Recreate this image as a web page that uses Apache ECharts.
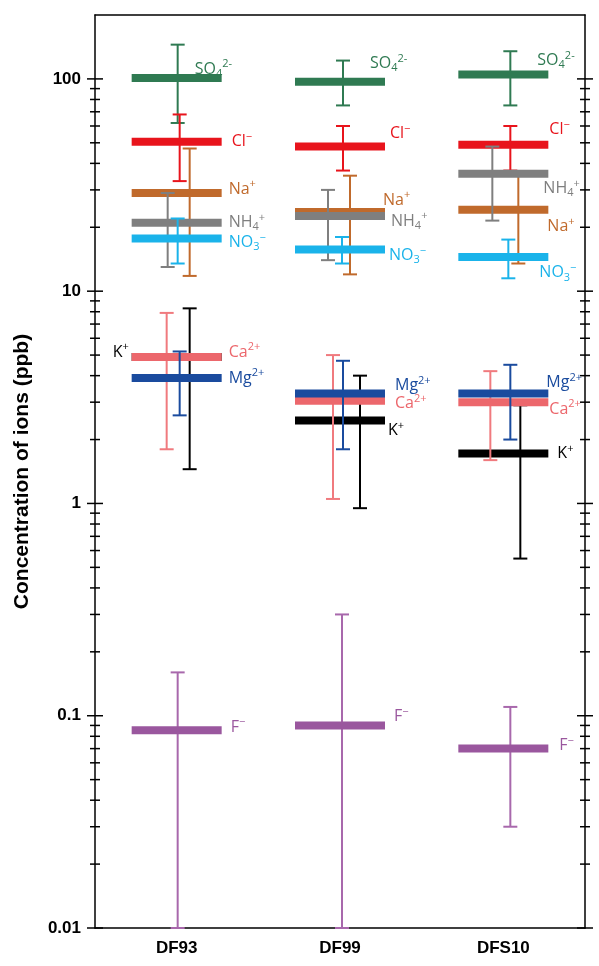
<!DOCTYPE html>
<html>
<head>
<meta charset="utf-8">
<script src="https://cdn.jsdelivr.net/npm/echarts@6/dist/echarts.min.js"></script>
<style>html,body{margin:0;padding:0;background:#fff}#chart{width:599px;height:966px}</style>
</head>
<body>
<div id="chart"></div>
<script>
var sites = ['DF93', 'DF99', 'DFS10'];
var ions = ['SO4', 'Cl', 'Na', 'NH4', 'NO3', 'K', 'Ca', 'Mg', 'F'];
// mean, upper, lower per site (ppb)
var meanVals = {
  SO4: [101, 97, 105], Cl: [50.6, 48, 49], Na: [29, 23.6, 24.2], NH4: [21, 22.6, 35.7],
  NO3: [17.7, 15.7, 14.5], K: [4.9, 2.46, 1.72], Ca: [4.9, 3.05, 3.0], Mg: [3.9, 3.3, 3.3], F: [0.0855, 0.09, 0.07]
};
var upperVals = {
  SO4: [145, 122, 135], Cl: [68, 60, 60], Na: [47, 35, 35], NH4: [29, 30, 48],
  NO3: [22, 18, 17.5], K: [8.3, 4.0, 2.9], Ca: [7.9, 5.0, 4.2], Mg: [5.2, 4.7, 4.5], F: [0.16, 0.3, 0.11]
};
var lowerVals = {
  SO4: [62, 75, 75], Cl: [33, 37, 37], Na: [11.8, 12, 13.5], NH4: [13, 14, 21.5],
  NO3: [13.5, 13.5, 11.5], K: [1.45, 0.95, 0.55], Ca: [1.8, 1.05, 1.6], Mg: [2.6, 1.8, 2.0], F: [0.01, 0.01, 0.03]
};
var tickValues = [0.01, 0.1, 1, 10, 100];

var colors = { SO4: '#2f7a52', Cl: '#e8141c', Na: '#c06a2c', NH4: '#7f7f7f', NO3: '#1ab3ea', K: '#000000', Ca: '#ec676c', Mg: '#1a4b9e', F: '#9a579e' };
var errColors = { SO4: '#2f7a52', Cl: '#e8141c', Na: '#c06a2c', NH4: '#7f7f7f', NO3: '#1ab3ea', K: '#000000', Ca: '#f07a7e', Mg: '#1a4b9e', F: '#a868ac' };
var labels = {
  SO4: '{b|SO}{sb|4}{sp|2-}', Cl: '{b|Cl}{sp|−}', Na: '{b|Na}{sp|+}', NH4: '{b|NH}{sb|4}{sp|+}',
  NO3: '{b|NO}{sb|3}{sp|−}', K: '{b|K}{sp|+}', Ca: '{b|Ca}{sp|2+}', Mg: '{b|Mg}{sp|2+}', F: '{b|F}{sp|−}'
};
// pixel offsets: error-bar x, label dx, label dy
var errDx = {
  SO4: [1, 3, 7], Cl: [3, 3, 7], Na: [13, 10, 15], NH4: [-9, -12, -11], NO3: [1, 2, 5],
  K: [13, 20, 17], Ca: [-10, -7, -13], Mg: [3, 3, 7], F: [1, 2, 7]
};
var labDx = {
  SO4: [18, 30, 34], Cl: [55, 50, 46], Na: [52, 43, 44], NH4: [52, 51, 40], NO3: [52, 49, 36],
  K: [-64, 48, 54], Ca: [52, 55, 46], Mg: [52, 55, 43], F: [54, 54, 56]
};
var labDy = {
  SO4: [-9, -18, -14], Cl: [0, -13, -15], Na: [-4, -12, 17], NH4: [0, 5, 15], NO3: [4, 6, 16],
  K: [-5, 10, 0], Ca: [-5, 3, 7], Mg: [0, -8, -11], F: [-3, -9, -3]
};

var L = Math.log10;
var series = [];
ions.forEach(function (ion) {
  var data = sites.map(function (s, i) {
    return [i, L(meanVals[ion][i]), L(upperVals[ion][i]), L(lowerVals[ion][i])];
  });
  series.push({
    type: 'custom', name: ion, data: data, clip: false,
    renderItem: function (params, api) {
      var i = params.dataIndex;
      var p = api.coord([api.value(0), api.value(1)]);
      var pu = api.coord([api.value(0), api.value(2)]);
      var pl = api.coord([api.value(0), api.value(3)]);
      var ex = p[0] + errDx[ion][i];
      var ec = errColors[ion];
      var ls = { stroke: ec, lineWidth: 2 };
      var c = colors[ion];
      var children = [
        { type: 'line', shape: { x1: ex, y1: pu[1], x2: ex, y2: pl[1] }, style: ls },
        { type: 'line', shape: { x1: ex - 7, y1: pu[1], x2: ex + 7, y2: pu[1] }, style: ls },
        { type: 'line', shape: { x1: ex - 7, y1: pl[1], x2: ex + 7, y2: pl[1] }, style: ls },
        { type: 'line', shape: { x1: p[0] - 45, y1: p[1], x2: p[0] + 45, y2: p[1] }, style: { stroke: c, lineWidth: 8 } },
        {
          type: 'text', x: p[0] + labDx[ion][i], y: p[1] + labDy[ion][i],
          style: {
            text: labels[ion], fill: c, verticalAlign: 'middle', align: 'left',
            font: '16px "Open Sans"',
            rich: {
              b: { font: '16px "Open Sans"', fill: c },
              sb: { font: '11px "Open Sans"', fill: c, padding: [9, 0, 0, 0] },
              sp: { font: '11px "Open Sans"', fill: c, padding: [0, 0, 10, 0] }
            }
          }
        }
      ];
      return { type: 'group', children: children };
    }
  });
});

// log minor ticks on both sides
var minorData = [];
[-2, -1, 0, 1, 2].forEach(function (e) {
  for (var k = 2; k <= 9; k++) {
    var v = k * Math.pow(10, e);
    if (v < 200) minorData.push([0, L(v)]);
  }
});
function tickSeries(data, half) {
  return {
    type: 'custom', data: data, silent: true, z: 1, clip: false,
    renderItem: function (params, api) {
      var p = api.coord([0, api.value(1)]);
      var x0 = params.coordSys.x, x1 = x0 + params.coordSys.width;
      var st = { stroke: '#000', lineWidth: 1.5 };
      return { type: 'group', children: [
        { type: 'line', shape: { x1: x0 - half, y1: p[1], x2: x0 + half, y2: p[1] }, style: st },
        { type: 'line', shape: { x1: x1 - half, y1: p[1], x2: x1 + half, y2: p[1] }, style: st }
      ] };
    }
  };
}
series.push(tickSeries(minorData, 5));
series.push(tickSeries(tickValues.map(function (v) { return [0, L(v)]; }), 8));

var yBase = {
  type: 'value', min: -2, max: L(200), interval: 1,
  axisLine: { show: true, onZero: false, lineStyle: { color: '#000', width: 1.5 } },
  axisTick: { show: false },
  splitLine: { show: false }
};
var option = {
  animation: false,
  grid: { left: 95, right: 14, top: 15, bottom: 38 },
  xAxis: [{
    type: 'category', data: sites, position: 'bottom',
    axisLine: { onZero: false, lineStyle: { color: '#000', width: 1.5 } },
    axisTick: { show: false },
    axisLabel: { fontSize: 17, fontWeight: 'bold', color: '#000', fontFamily: 'Arial', margin: 12 }
  }, {
    type: 'category', data: sites, position: 'top',
    axisLine: { show: true, onZero: false, lineStyle: { color: '#000', width: 1.5 } },
    axisTick: { show: false }, axisLabel: { show: false }
  }],
  yAxis: [
    Object.assign({}, yBase, {
      name: 'Concentration of ions (ppb)', nameLocation: 'middle', nameGap: 62,
      nameTextStyle: { fontSize: 21, fontWeight: 'bold', color: '#000', fontFamily: 'Arial' },
      axisLabel: {
        fontSize: 17, fontWeight: 'bold', color: '#000', fontFamily: 'Arial', margin: 14,
        formatter: function (v) {
          var t = tickValues.filter(function (x) { return Math.abs(L(x) - v) < 1e-6; });
          return t.length ? String(t[0]) : '';
        }
      }
    }),
    Object.assign({}, yBase, { position: 'right', axisLabel: { show: false } })
  ],
  series: series
};
var myChart = echarts.init(document.getElementById('chart'));
myChart.setOption(option);
</script>
</body>
</html>
